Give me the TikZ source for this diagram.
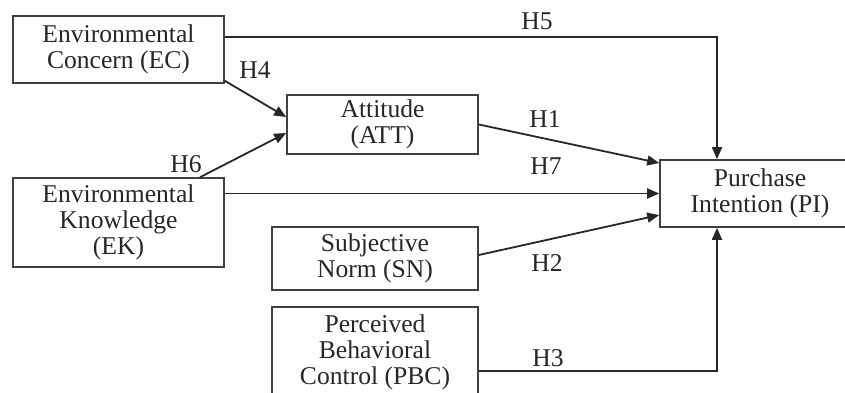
\documentclass[tikz,border=0pt]{standalone}
\usepackage{fontspec}
\setmainfont{Liberation Serif}
\usetikzlibrary{arrows.meta}

\begin{document}
\begin{tikzpicture}[x=0.5pt,y=-0.5pt,
  box/.style={draw=black!75,line width=0.8pt,align=center,inner sep=0pt,
    text=black!85,font=\fontsize{12.8}{13}\selectfont},
  link/.style={draw=black!85,line width=0.9pt,-{Triangle[length=6pt,width=5pt]}},
  hyp/.style={text=black!85,font=\fontsize{12.8}{13}\selectfont}]
\useasboundingbox (0,0) rectangle (845,392);
\clip (0,0) rectangle (845,392);
% constructs (coordinates in pixels of the original figure)
\node[box,minimum width=105.5pt,minimum height=33.5pt] (EC) at (118.5,49.5)
  {Environmental\\Concern (EC)};
\node[box,minimum width=105.5pt,minimum height=44.5pt] (EK) at (118.5,222.5)
  {Environmental\\Knowledge\\(EK)};
\node[box,minimum width=95.5pt,minimum height=29.5pt] (ATT) at (382.5,124.5)
  {Attitude\\(ATT)};
\node[box,minimum width=103pt,minimum height=31.5pt] (SN) at (375,258.5)
  {Subjective\\Norm (SN)};
% runs off the bottom edge, as in the source
\node[box,minimum width=103pt,minimum height=45pt] (PBC) at (375,352)
  {Perceived\\Behavioral\\Control (PBC)};
\node[box,minimum width=100pt,minimum height=33.5pt] (PI) at (760,193.5)
  {Purchase\\Intention (PI)};

% hypotheses
\draw[link] ([yshift=6.25pt]EC.east) -| ([xshift=-21.5pt]PI.north);
\draw[link] ([yshift=1.5pt]EC.south east) -- ([yshift=3.75pt]ATT.west);
\draw[link] ([xshift=40.75pt]EK.north) -- ([yshift=-4.25pt]ATT.west);
\draw[link] (ATT.east) -- ([yshift=15.25pt]PI.west);
\draw[link] (EK.east |- PI.west) -- (PI.west);
\draw[link] ([yshift=1.75pt]SN.east) -- ([yshift=-10.75pt]PI.west);
\draw[link] ([yshift=-9.5pt]PBC.east) -| ([xshift=-21.5pt]PI.south);

\node[hyp] (h5) at (537,21) {H5};
\node[hyp] (h4) at (255,70) {H4};
\node[hyp] (h6) at (186,164) {H6};
\node[hyp] (h1) at (545,119) {H1};
\node[hyp] (h7) at (546,166) {H7};
\node[hyp] (h2) at (547,263) {H2};
\node[hyp] (h3) at (548,358) {H3};
\end{tikzpicture}
\end{document}
